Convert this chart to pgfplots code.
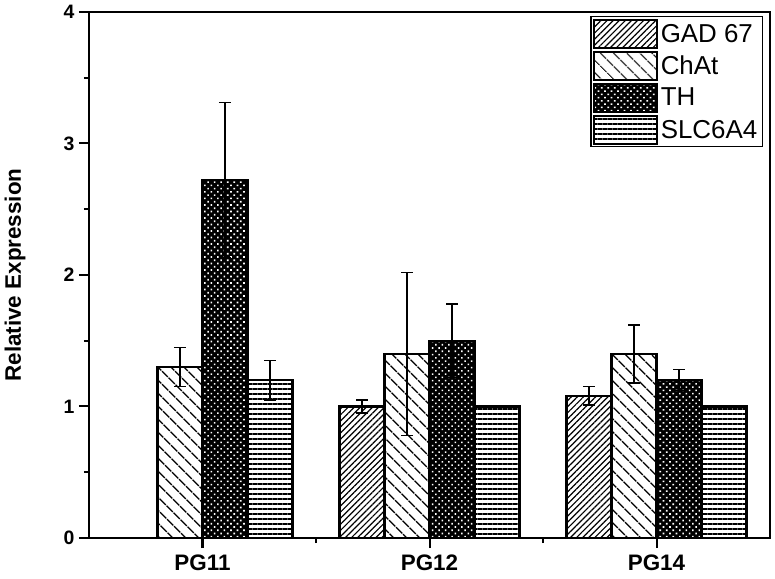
\documentclass[border=0pt]{standalone}
\usepackage{fontspec}
\setmainfont{Liberation Sans}
\usepackage{pgfplots}
\pgfplotsset{compat=1.18}
\usetikzlibrary{patterns.meta,calc}

\tikzset{
  gadpat/.style={pattern={Lines[angle=45,distance=4.3bp,line width=1.2bp]}},
  chatpat/.style={pattern={Lines[angle=-45,distance=9.5bp,line width=1.4bp]}},
  thpat/.style={fill=black,postaction={pattern={Dots[angle=45,distance=4.6bp,radius=1.15bp]},pattern color=white}},
  slcpat/.style={pattern={Lines[angle=0,distance=5bp,line width=1.5bp]}},
}

\begin{document}
\begin{tikzpicture}
\begin{axis}[
    scale only axis,
    width=681bp, height=526bp,
    xmin=0.5, xmax=3.5,
    ymin=0, ymax=4,
    axis line style={line width=2.4bp},
    tick pos=left,
    tick align=outside,
    major tick length=10bp,
    minor tick length=5bp,
    every tick/.style={line width=2bp,black},
    xtick={1,2,3},
    xticklabels={PG11,PG12,PG14},
    minor xtick={1.5,2.5},
    ytick={0,1,2,3,4},
    minor ytick={0.5,1.5,2.5,3.5},
    /pgf/number format/assume math mode=true,
    yticklabel style={font=\bfseries\fontsize{19.5}{19.5}\selectfont, xshift=-1bp},
    xticklabel style={font=\bfseries\fontsize{22.5}{22.5}\selectfont, yshift=-3bp},
    every axis y label/.style={at={(rel axis cs:0,0.5)}, rotate=90, anchor=center, yshift=74bp},
    ylabel={\bfseries\fontsize{22.5}{22.5}\selectfont Relative Expression},
    ybar=0pt,
    bar width=45bp,
    every axis plot/.append style={line width=2.2bp},
    error bars/error bar style={line width=1.4bp},
    error bars/error mark options={rotate=90, mark size=6bp, line width=1.4bp},
    legend image code/.code={\draw[#1, line width=2bp] (0bp,-14bp) rectangle (63bp,14bp);},
    legend style={at={(1,1)}, anchor=north east, xshift=-7bp, yshift=-4bp,
        draw=black, line width=1.5bp, font=\fontsize{26}{26}\selectfont,
        cells={anchor=west}, row sep=2bp, inner sep=2bp,
        nodes={inner xsep=3bp}},
]
\addplot[draw=black, gadpat, error bars/.cd, y dir=both, y explicit]
  coordinates {(2,1.00) +- (0,0.05) (3,1.08) +- (0,0.07)};
\addplot[draw=black, chatpat, error bars/.cd, y dir=both, y explicit]
  coordinates {(1,1.30) +- (0,0.15) (2,1.40) +- (0,0.62) (3,1.40) +- (0,0.22)};
\addplot[draw=black, thpat, error bars/.cd, y dir=both, y explicit]
  coordinates {(1,2.72) +- (0,0.59) (2,1.50) +- (0,0.28) (3,1.20) +- (0,0.08)};
\addplot[draw=black, slcpat, error bars/.cd, y dir=both, y explicit]
  coordinates {(1,1.20) +- (0,0.15) (2,1.00) +- (0,0) (3,1.00) +- (0,0)};
\legend{GAD 67,ChAt,TH,SLC6A4}
\end{axis}
\pgfresetboundingbox
\path[use as bounding box] ($(current axis.south west)+(-89bp,-41bp)$) rectangle ($(current axis.north east)+(5bp,12bp)$);
\end{tikzpicture}
\end{document}
